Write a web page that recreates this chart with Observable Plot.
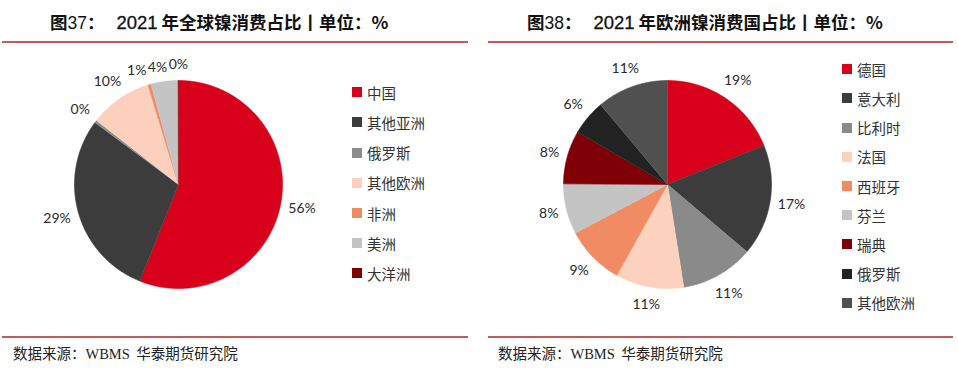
<!DOCTYPE html>
<html>
<head>
<meta charset="utf-8">
<script src="https://cdn.jsdelivr.net/npm/d3@7"></script>
<script src="https://cdn.jsdelivr.net/npm/@observablehq/plot@0.6"></script>
<style>
  html, body { margin: 0; padding: 0; background: #fff; }
  #root { position: relative; width: 958px; height: 375px; overflow: hidden; font-family: "Noto Sans CJK SC", sans-serif; }
  .title { position: absolute; top: 10px; font-size: 17.5px; font-weight: bold; color: #111; white-space: nowrap; line-height: 24px; }
  .title .num { font-family: "Liberation Sans", "Noto Sans CJK SC", sans-serif; font-size: 18.5px; font-weight: normal; -webkit-text-stroke: 0.3px #111; }
  .title .numb { font-family: "Liberation Sans", "Noto Sans CJK SC", sans-serif; font-weight: normal; }
  .rule { position: absolute; height: 2px; background: #c85a5a; }
  .source { position: absolute; top: 343px; font-size: 14.5px; color: #222; white-space: nowrap; line-height: 20px; }
  .source .lat { font-family: "Liberation Serif", serif; }
  .pie { position: absolute; top: 28px; }
  .pie svg { overflow: visible; }
  .legend { position: absolute; }
  .legend .row { display: flex; align-items: center; font-size: 14.5px; color: #333; white-space: nowrap; }
  .legend .sw { width: 10px; height: 10px; margin-right: 5px; flex: none; }
</style>
</head>
<body>
<div id="root"></div>
<script>
// ---- Data ----
const pie1Names = ["中国", "其他亚洲", "俄罗斯", "其他欧洲", "非洲", "美洲", "大洋洲"];
const pie1Values = [56.1, 29.1, 0.4, 9.7, 0.5, 4.2, 0.05];
const pie1Labels = ["56%", "29%", "0%", "10%", "1%", "4%", "0%"];
const pie1Colors = ["#d9001b", "#3c3c3c", "#8c8c8c", "#fcd0bd", "#f08a63", "#c4c4c4", "#800000"];

const pie2Names = ["德国", "意大利", "比利时", "法国", "西班牙", "芬兰", "瑞典", "俄罗斯", "其他欧洲"];
const pie2Values = [18.9, 17.3, 11.3, 10.6, 9.2, 7.8, 8.3, 5.5, 11.1];
const pie2Labels = ["19%", "17%", "11%", "11%", "9%", "8%", "8%", "6%", "11%"];
const pie2Colors = ["#d9001b", "#3c3c3c", "#8a8a8a", "#fcd1be", "#f08b64", "#c4c4c4", "#800008", "#222222", "#505050"];

const root = document.getElementById("root");

function el(tag, cls, html, style) {
  const e = document.createElement(tag);
  if (cls) e.className = cls;
  if (html != null) e.innerHTML = html;
  if (style) Object.assign(e.style, style);
  root.appendChild(e);
  return e;
}

function makePie(names, values, labels, colors) {
  const R = 104; // px per unit radius
  const arcs = d3.pie().sort(null).value(d => d)(values);
  const pts = [];
  arcs.forEach((a, i) => {
    pts.push({name: names[i], x: 0, y: 0});
    const steps = Math.max(2, Math.ceil((a.endAngle - a.startAngle) / (Math.PI / 180)));
    for (let k = 0; k <= steps; k++) {
      const t = a.startAngle + (a.endAngle - a.startAngle) * k / steps;
      pts.push({name: names[i], x: Math.sin(t), y: Math.cos(t)});
    }
  });
  // outside-end label placement: gap from the rim plus half the label box
  const lab = arcs.map((a, i) => {
    const m = (a.startAngle + a.endAngle) / 2;
    const hw = labels[i].length * 3.9, hh = 7;
    const d = 1 + (9 + Math.abs(Math.sin(m)) * hw + Math.abs(Math.cos(m)) * hh) / R;
    return {label: labels[i], x: Math.sin(m) * d, y: Math.cos(m) * d};
  });
  // simple overlap nudge (labels going counter-clockwise near the top)
  for (let i = lab.length - 2; i >= 0; i--) {
    const a = lab[i], b = lab[i + 1];
    const need = (a.label.length + b.label.length) * 5.2 / R;
    if (Math.abs(a.y - b.y) < 14 / R && a.x > b.x - need && a.x < b.x + need && a.y > 0) {
      a.x = b.x - need;
      a.y = b.y - 3 / R;
    }
  }
  return Plot.plot({
    width: 312, height: 312, margin: 0,
    x: {domain: [-1.5, 1.5], axis: null},
    y: {domain: [-1.5, 1.5], axis: null},
    color: {domain: names, range: colors},
    style: {background: "transparent", overflow: "visible"},
    marks: [
      Plot.line(pts, {x: "x", y: "y", z: "name", fill: "name", stroke: "name", strokeWidth: 0.6}),
      Plot.text(lab, {x: "x", y: "y", text: "label", fontSize: 14, fill: "#2a2a2a", fontFamily: "Lato, sans-serif"})
    ]
  });
}

function makeLegend(names, colors, left, top, rowH) {
  const lg = el("div", "legend", null, {left: left + "px", top: top + "px"});
  names.forEach((n, i) => {
    const row = document.createElement("div");
    row.className = "row";
    row.style.height = rowH + "px";
    const sw = document.createElement("div");
    sw.className = "sw";
    sw.style.background = colors[i];
    const tx = document.createElement("span");
    tx.textContent = n;
    row.appendChild(sw); row.appendChild(tx);
    lg.appendChild(row);
  });
}

// Titles
el("div", "title", '图<span class="numb">37</span>：&nbsp;&nbsp;&nbsp;<span class="num">2021</span> 年全球镍消费占比丨单位：%', {left: "50px"});
el("div", "title", '图<span class="numb">38</span>：&nbsp;&nbsp;&nbsp;<span class="num">2021</span> 年欧洲镍消费国占比丨单位：%', {left: "527px"});
// Rules
el("div", "rule", null, {left: "2px", width: "466px", top: "41px"});
el("div", "rule", null, {left: "488px", width: "465px", top: "41px"});
el("div", "rule", null, {left: "2px", width: "466px", top: "336px"});
el("div", "rule", null, {left: "488px", width: "465px", top: "336px"});
// Sources
el("div", "source", '数据来源：<span class="lat">WBMS</span>&nbsp;&nbsp;华泰期货研究院', {left: "13px"});
el("div", "source", '数据来源：<span class="lat">WBMS</span>&nbsp;&nbsp;华泰期货研究院', {left: "498px"});

// Pies
const p1 = el("div", "pie", null, {left: "22px"});
p1.appendChild(makePie(pie1Names, pie1Values, pie1Labels, pie1Colors));
const p2 = el("div", "pie", null, {left: "511px"});
p2.appendChild(makePie(pie2Names, pie2Values, pie2Labels, pie2Colors));

// Legends
makeLegend(pie1Names, pie1Colors, 352, 77.2, 30.2);
makeLegend(pie2Names, pie2Colors, 842, 54.7, 29.2);
</script>
</body>
</html>
